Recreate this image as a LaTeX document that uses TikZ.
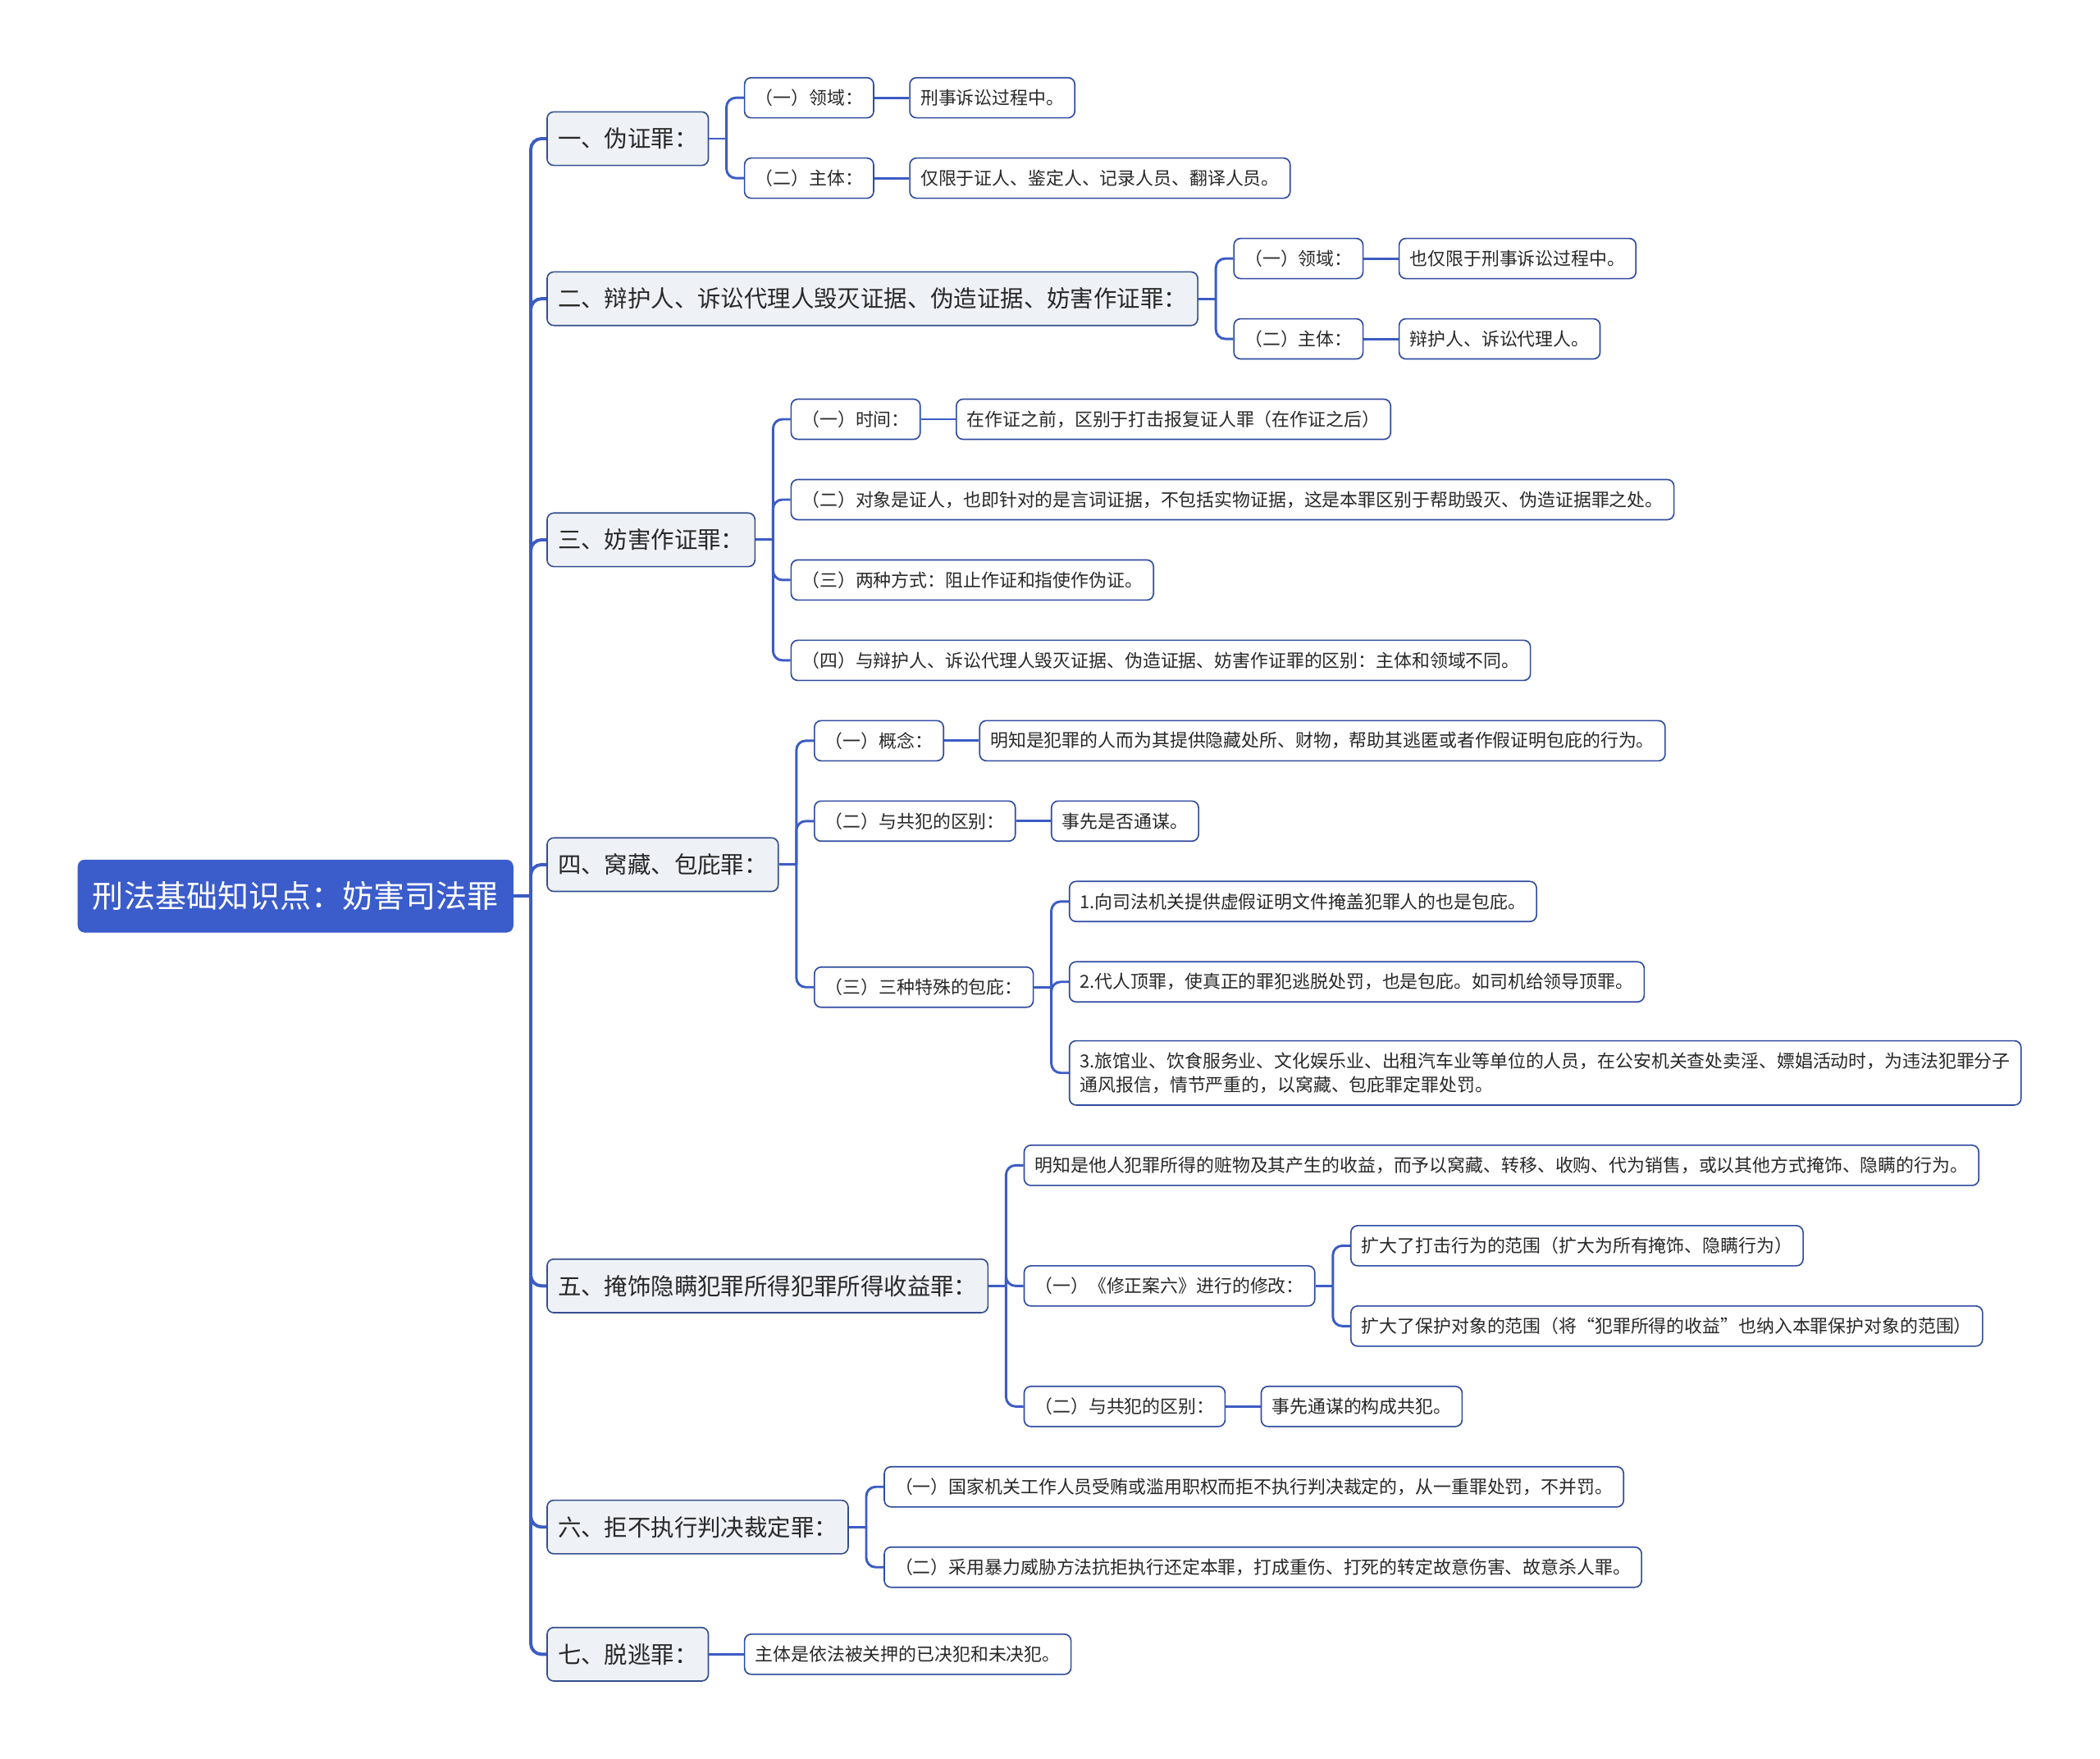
\documentclass[tikz,border=0pt]{standalone}
\usepackage{fontspec}
\setmainfont{Noto Sans CJK SC}
\usetikzlibrary{positioning}
\definecolor{rootblue}{RGB}{59,92,203}
\definecolor{linkblue}{RGB}{60,92,196}
\definecolor{boxedge}{RGB}{47,75,160}
\definecolor{topfill}{RGB}{238,242,247}
\definecolor{topedge}{RGB}{52,78,140}
\definecolor{inkgray}{RGB}{40,40,40}

\begin{document}
\begin{tikzpicture}[x=1pt,y=-1pt,
  every node/.style={text=inkgray},
  rootbox/.style={fill=rootblue,draw=rootblue,rounded corners=5pt,text=white,
                  font=\fontsize{23.3}{28}\selectfont,minimum height=54pt,inner xsep=11pt,anchor=west},
  topic/.style={fill=topfill,draw=topedge,line width=1pt,rounded corners=5pt,
                font=\fontsize{17.4}{21}\selectfont,minimum height=40pt,inner xsep=8pt,anchor=west},
  item/.style={fill=white,draw=boxedge,line width=1pt,rounded corners=5pt,
               font=\fontsize{13.4}{17.5}\selectfont,minimum height=30pt,inner xsep=8pt,anchor=west},
  trunk/.style={draw=linkblue,line width=2.4pt,rounded corners=8pt},
  twig/.style={draw=linkblue,line width=1.8pt,rounded corners=7pt}]

\useasboundingbox (0,0) rectangle (1568,1313);

% --- root and trunk
\node[rootbox] (root) at (58,669) {刑法基础知识点：妨害司法罪};
\coordinate (tr) at ([xshift=13pt]root.east);
\draw[trunk] (root.east) -- (tr);
\foreach \n/\y/\t in {t1/103.5/一、伪证罪：,
                       t2/223/二、辩护人、诉讼代理人毁灭证据、伪造证据、妨害作证罪：,
                       t3/403/三、妨害作证罪：,
                       t4/645.5/四、窝藏、包庇罪：,
                       t5/960/五、掩饰隐瞒犯罪所得犯罪所得收益罪：,
                       t6/1140/六、拒不执行判决裁定罪：,
                       t7/1235/七、脱逃罪：}{
  \node[topic] (\n) at (408,\y) {\t};
  \draw[trunk] (tr) |- (\n.west);
}

% --- 1. 伪证罪
\coordinate (b1) at ([xshift=13pt]t1.east);
\coordinate (c1) at ([xshift=26pt]t1.east);
\draw[twig] (t1.east) -- (b1);
\node[item] (t1a) at (c1 |- 0,73) {（一）领域：};
\node[item] (t1b) at (c1 |- 0,133) {（二）主体：};
\node[item,right=26pt of t1a] (t1a1) {刑事诉讼过程中。};
\node[item,right=26pt of t1b] (t1b1) {仅限于证人、鉴定人、记录人员、翻译人员。};
\foreach \c in {t1a,t1b} \draw[twig] (b1) |- (\c.west);
\draw[twig] (t1a) -- (t1a1);
\draw[twig] (t1b) -- (t1b1);

% --- 2. 辩护人、诉讼代理人
\coordinate (b2) at ([xshift=13pt]t2.east);
\coordinate (c2) at ([xshift=26pt]t2.east);
\draw[twig] (t2.east) -- (b2);
\node[item] (t2a) at (c2 |- 0,193) {（一）领域：};
\node[item] (t2b) at (c2 |- 0,253) {（二）主体：};
\node[item,right=26pt of t2a] (t2a1) {也仅限于刑事诉讼过程中。};
\node[item,right=26pt of t2b] (t2b1) {辩护人、诉讼代理人。};
\foreach \c in {t2a,t2b} \draw[twig] (b2) |- (\c.west);
\draw[twig] (t2a) -- (t2a1);
\draw[twig] (t2b) -- (t2b1);

% --- 3. 妨害作证罪
\coordinate (b3) at ([xshift=13pt]t3.east);
\coordinate (c3) at ([xshift=26pt]t3.east);
\draw[twig] (t3.east) -- (b3);
\node[item] (t3a) at (c3 |- 0,313) {（一）时间：};
\node[item] (t3b) at (c3 |- 0,373) {（二）对象是证人，也即针对的是言词证据，不包括实物证据，这是本罪区别于帮助毁灭、伪造证据罪之处。};
\node[item] (t3c) at (c3 |- 0,433) {（三）两种方式：阻止作证和指使作伪证。};
\node[item] (t3d) at (c3 |- 0,493) {（四）与辩护人、诉讼代理人毁灭证据、伪造证据、妨害作证罪的区别：主体和领域不同。};
\node[item,right=26pt of t3a] (t3a1) {在作证之前，区别于打击报复证人罪（在作证之后）};
\foreach \c in {t3a,t3b,t3c,t3d} \draw[twig] (b3) |- (\c.west);
\draw[twig] (t3a) -- (t3a1);

% --- 4. 窝藏、包庇罪
\coordinate (b4) at ([xshift=13pt]t4.east);
\coordinate (c4) at ([xshift=26pt]t4.east);
\draw[twig] (t4.east) -- (b4);
\node[item] (t4a) at (c4 |- 0,553) {（一）概念：};
\node[item] (t4b) at (c4 |- 0,613) {（二）与共犯的区别：};
\node[item] (t4c) at (c4 |- 0,737) {（三）三种特殊的包庇：};
\node[item,right=26pt of t4a] (t4a1) {明知是犯罪的人而为其提供隐藏处所、财物，帮助其逃匿或者作假证明包庇的行为。};
\node[item,right=26pt of t4b] (t4b1) {事先是否通谋。};
\foreach \c in {t4a,t4b,t4c} \draw[twig] (b4) |- (\c.west);
\draw[twig] (t4a) -- (t4a1);
\draw[twig] (t4b) -- (t4b1);
\coordinate (b4c) at ([xshift=13pt]t4c.east);
\coordinate (c4c) at ([xshift=26pt]t4c.east);
\draw[twig] (t4c.east) -- (b4c);
\node[item] (t4c1) at (c4c |- 0,673) {1.向司法机关提供虚假证明文件掩盖犯罪人的也是包庇。};
\node[item] (t4c2) at (c4c |- 0,733) {2.代人顶罪，使真正的罪犯逃脱处罚，也是包庇。如司机给领导顶罪。};
\node[item,align=left,minimum height=48pt] (t4c3) at (c4c |- 0,801)
  {3.旅馆业、饮食服务业、文化娱乐业、出租汽车业等单位的人员，在公安机关查处卖淫、嫖娼活动时，为违法犯罪分子\\通风报信，情节严重的，以窝藏、包庇罪定罪处罚。};
\foreach \c in {t4c1,t4c2,t4c3} \draw[twig] (b4c) |- (\c.west);

% --- 5. 掩饰隐瞒犯罪所得
\coordinate (b5) at ([xshift=13pt]t5.east);
\coordinate (c5) at ([xshift=26pt]t5.east);
\draw[twig] (t5.east) -- (b5);
\node[item] (t5a) at (c5 |- 0,870) {明知是他人犯罪所得的赃物及其产生的收益，而予以窝藏、转移、收购、代为销售，或以其他方式掩饰、隐瞒的行为。};
\node[item] (t5b) at (c5 |- 0,960) {（一）《修正案六》进行的修改：};
\node[item] (t5c) at (c5 |- 0,1050) {（二）与共犯的区别：};
\node[item,right=26pt of t5c] (t5c1) {事先通谋的构成共犯。};
\foreach \c in {t5a,t5b,t5c} \draw[twig] (b5) |- (\c.west);
\draw[twig] (t5c) -- (t5c1);
\coordinate (b5b) at ([xshift=13pt]t5b.east);
\coordinate (c5b) at ([xshift=26pt]t5b.east);
\draw[twig] (t5b.east) -- (b5b);
\node[item] (t5b1) at (c5b |- 0,930) {扩大了打击行为的范围（扩大为所有掩饰、隐瞒行为）};
\node[item] (t5b2) at (c5b |- 0,990) {扩大了保护对象的范围（将“犯罪所得的收益”也纳入本罪保护对象的范围）};
\foreach \c in {t5b1,t5b2} \draw[twig] (b5b) |- (\c.west);

% --- 6. 拒不执行判决裁定罪
\coordinate (b6) at ([xshift=13pt]t6.east);
\coordinate (c6) at ([xshift=26pt]t6.east);
\draw[twig] (t6.east) -- (b6);
\node[item] (t6a) at (c6 |- 0,1110) {（一）国家机关工作人员受贿或滥用职权而拒不执行判决裁定的，从一重罪处罚，不并罚。};
\node[item] (t6b) at (c6 |- 0,1170) {（二）采用暴力威胁方法抗拒执行还定本罪，打成重伤、打死的转定故意伤害、故意杀人罪。};
\foreach \c in {t6a,t6b} \draw[twig] (b6) |- (\c.west);

% --- 7. 脱逃罪
\node[item,right=26pt of t7] (t7a) {主体是依法被关押的已决犯和未决犯。};
\draw[twig] (t7) -- (t7a);
\end{tikzpicture}
\end{document}
